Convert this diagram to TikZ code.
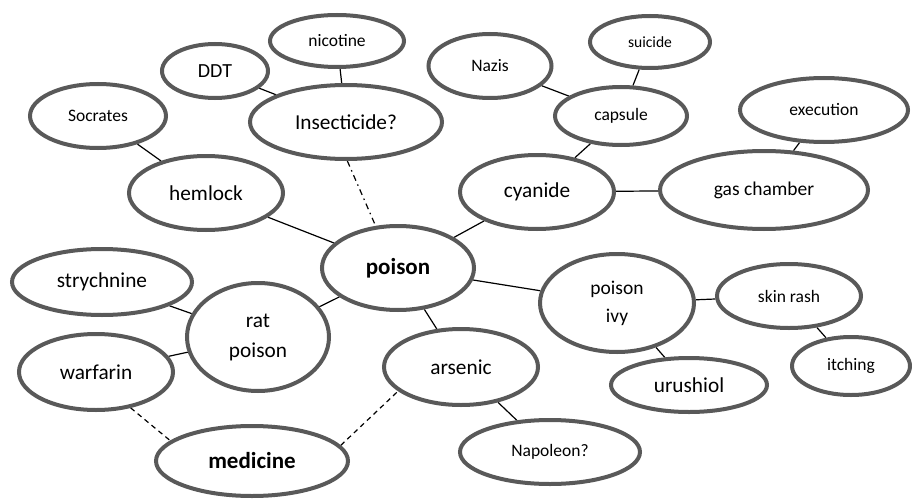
\documentclass[tikz,border=0pt]{standalone}
\usepackage{fontspec}
\setmainfont{Carlito}
\usepackage{xcolor}
\usepackage{tikz}
\usetikzlibrary{shapes.geometric,backgrounds}
\definecolor{rimgray}{RGB}{89,89,89}

\tikzset{
  bubble/.style={ellipse, draw=rimgray, line width=4pt, inner sep=0pt, align=center},
  smalltxt/.style={font=\fontsize{17.5}{21}\selectfont},
  bigtxt/.style={font=\fontsize{21.3}{30}\selectfont},
  hubtxt/.style={font=\fontsize{23}{27}\selectfont\bfseries},
  link/.style={line width=1.2pt, black}
}

\begin{document}
\begin{tikzpicture}[x=1pt, y=-1pt]
\useasboundingbox (0,0) rectangle (912,500);
% hubs
\node[bubble, hubtxt, minimum width=152, minimum height=84] (poison) at (398,268) {poison};
\node[bubble, hubtxt, minimum width=192, minimum height=70] (medicine) at (252,461) {medicine};
% upper left
\node[bubble, smalltxt, minimum width=134, minimum height=52] (nicotine) at (337,41) {nicotine};
\node[bubble, font=\fontsize{20}{24}\selectfont, minimum width=106, minimum height=54] (ddt) at (215,71) {DDT};
\node[bubble, smalltxt, minimum width=136, minimum height=64] (socrates) at (98,116) {Socrates};
\node[bubble, bigtxt, minimum width=192, minimum height=74] (insect) at (346,122) {Insecticide?};
\node[bubble, bigtxt, minimum width=154, minimum height=74] (hemlock) at (206,193) {hemlock};
% upper right
\node[bubble, smalltxt, minimum width=123, minimum height=64] (nazis) at (490,66) {Nazis};
\node[bubble, font=\fontsize{15.6}{19}\selectfont, minimum width=120, minimum height=52] (suicide) at (650,42) {suicide};
\node[bubble, smalltxt, minimum width=132, minimum height=58] (capsule) at (621,116) {capsule};
\node[bubble, smalltxt, minimum width=168, minimum height=64] (execution) at (824,110) {execution};
\node[bubble, bigtxt, minimum width=154, minimum height=74] (cyanide) at (537,192) {cyanide};
\node[bubble, font=\fontsize{19.5}{24}\selectfont, minimum width=208, minimum height=78] (gaschamber) at (764,190) {gas chamber};
% lower left
\node[bubble, bigtxt, minimum width=180, minimum height=66] (strychnine) at (102,282) {strychnine};
\node[bubble, bigtxt, minimum width=142, minimum height=108] (ratpoison) at (258,337) {rat\\poison};
\node[bubble, bigtxt, minimum width=154, minimum height=76] (warfarin) at (96,372) {warfarin};
\node[bubble, bigtxt, minimum width=154, minimum height=76] (arsenic) at (461,367) {arsenic};
% lower right
\node[bubble, font=\fontsize{19.5}{28}\selectfont, minimum width=154, minimum height=98] (poisonivy) at (617,303) {poison\\ivy};
\node[bubble, smalltxt, minimum width=144, minimum height=64] (skinrash) at (789,296) {skin rash};
\node[bubble, smalltxt, minimum width=118, minimum height=58] (itching) at (851,366) {itching};
\node[bubble, bigtxt, minimum width=156, minimum height=54] (urushiol) at (689,385) {urushiol};
\node[bubble, smalltxt, minimum width=180, minimum height=64] (napoleon) at (550,452) {Napoleon?};
% connectors, behind the rims
\begin{scope}[on background layer]
\draw[link] (hemlock) -- (socrates);
\draw[link] (hemlock) -- (poison);
\draw[link] (ddt) -- (insect);
\draw[link] (nicotine) -- (insect);
\draw[link, dash pattern=on 6pt off 4pt on 1.5pt off 4pt] (insect.-88) -- (poison.118);
\draw[link] (nazis) -- (capsule);
\draw[link] (suicide) -- (capsule);
\draw[link] (capsule) -- (cyanide);
\draw[link] (cyanide) -- (gaschamber);
\draw[link] (execution) -- (gaschamber);
\draw[link] (cyanide) -- (poison);
\draw[link] (poison) -- (poisonivy);
\draw[link] (poisonivy) -- (skinrash);
\draw[link] (skinrash) -- (itching);
\draw[link] (poisonivy) -- (urushiol);
\draw[link] (poison) -- (ratpoison);
\draw[link] (poison) -- (arsenic);
\draw[link] (strychnine) -- (ratpoison);
\draw[link] (warfarin) -- (ratpoison);
\draw[link] (arsenic) -- (napoleon);
\draw[link, dash pattern=on 5pt off 4pt] (warfarin.-46) -- (medicine.166);
\draw[link, dash pattern=on 5pt off 4pt] (medicine.10) -- (arsenic.201);
\end{scope}
\end{tikzpicture}
\end{document}
